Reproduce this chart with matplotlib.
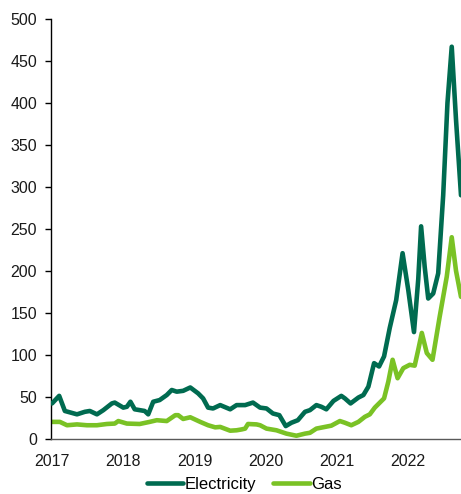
import matplotlib
matplotlib.use("Agg")
import matplotlib.pyplot as plt

# dates as decimal years
elec_dates = [2017.00, 2017.10, 2017.18, 2017.35, 2017.46, 2017.53, 2017.63, 2017.72,
              2017.84, 2017.88, 2018.00, 2018.05, 2018.10, 2018.16, 2018.23, 2018.30,
              2018.35, 2018.42, 2018.51, 2018.61, 2018.68, 2018.75, 2018.84, 2018.94,
              2019.05, 2019.12, 2019.19, 2019.26, 2019.36, 2019.50, 2019.59, 2019.71,
              2019.82, 2019.92, 2020.01, 2020.10, 2020.19, 2020.28, 2020.36, 2020.45,
              2020.55, 2020.62, 2020.71, 2020.78, 2020.85, 2020.95, 2021.06, 2021.11,
              2021.19, 2021.30, 2021.37, 2021.44, 2021.52, 2021.59, 2021.66, 2021.74,
              2021.83, 2021.92, 2022.00, 2022.08, 2022.14, 2022.18, 2022.23, 2022.28,
              2022.35, 2022.42, 2022.49, 2022.55, 2022.61, 2022.67, 2022.74]
electricity = [42, 51, 33, 29, 32, 33, 29, 34,
               42, 43, 37, 38, 44, 35, 34, 33,
               29, 44, 46, 52, 58, 56, 57, 61,
               54, 48, 37, 36, 40, 35, 40, 40,
               43, 37, 36, 30, 28, 15, 19, 22,
               32, 34, 40, 38, 35, 45, 51, 48,
               42, 49, 52, 62, 90, 86, 98, 132,
               165, 221, 177, 127, 190, 253, 205, 167,
               173, 197, 290, 400, 467, 380, 290]

gas_dates = [2017.00, 2017.11, 2017.21, 2017.35, 2017.49, 2017.63, 2017.77, 2017.88,
             2017.93, 2018.05, 2018.23, 2018.37, 2018.47, 2018.61, 2018.73, 2018.77,
             2018.84, 2018.94, 2019.08, 2019.19, 2019.29, 2019.36, 2019.50, 2019.59,
             2019.66, 2019.71, 2019.75, 2019.87, 2019.92, 2020.01, 2020.15, 2020.29,
             2020.43, 2020.55, 2020.62, 2020.71, 2020.83, 2020.92, 2021.04, 2021.11,
             2021.20, 2021.30, 2021.39, 2021.46, 2021.53, 2021.66, 2021.72, 2021.78,
             2021.85, 2021.93, 2022.02, 2022.09, 2022.14, 2022.19, 2022.26, 2022.34,
             2022.44, 2022.54, 2022.61, 2022.67, 2022.74]
gas = [20, 20, 16, 17, 16, 16, 17.5, 18,
       21, 18, 17.5, 20, 22, 21, 28, 28,
       23.5, 25.5, 20, 16, 13.5, 14, 9.5, 10,
       11, 12, 17.5, 17, 16, 12, 10, 6,
       3.5, 6, 7, 12, 14, 15.5, 21, 19,
       16, 20, 26, 29, 37, 48, 68, 94,
       72, 84, 88, 87, 106, 126, 102, 94,
       145, 193, 240, 200, 169]

years = [2017, 2018, 2019, 2020, 2021, 2022]

plt.rcParams['font.family'] = ['Liberation Sans', 'DejaVu Sans']

fig = plt.figure(figsize=(4.61, 4.94), dpi=100)
ax = fig.add_axes([0.1106, 0.112, 0.8894, 0.8495])

l_elec, = ax.plot(elec_dates, electricity, color='#006B50', lw=3.3,
                  solid_joinstyle='round', solid_capstyle='round')
l_gas, = ax.plot(gas_dates, gas, color='#7AC225', lw=3.3,
                 solid_joinstyle='round', solid_capstyle='round')
l_elec.set_zorder(3)

ax.set_xlim(2016.985, 2022.74)
ax.set_ylim(0, 500)
ax.set_yticks(range(0, 501, 50))
ax.set_xticks(years)
ax.set_xticklabels([str(y) for y in years])

for s in ['top', 'right']:
    ax.spines[s].set_visible(False)
ax.spines['left'].set_color('black')
ax.spines['left'].set_linewidth(1.0)
ax.spines['bottom'].set_color('#595959')
ax.spines['bottom'].set_linewidth(1.0)

ax.tick_params(axis='y', direction='out', length=4, width=1, pad=6,
               labelsize=11.5, colors='black')
ax.tick_params(axis='x', length=0, pad=11, labelsize=11.5, colors='black')
for lab in ax.get_xticklabels() + ax.get_yticklabels():
    lab.set_color('#1a1a1a')

fig.legend([l_elec, l_gas], ['Electricity', 'Gas'], loc='lower center',
           bbox_to_anchor=(0.53, -0.026), ncol=2, frameon=False,
           fontsize=12, handlelength=2.2, handletextpad=0.1, columnspacing=1.0)

fig.savefig('out.png', dpi=100)
